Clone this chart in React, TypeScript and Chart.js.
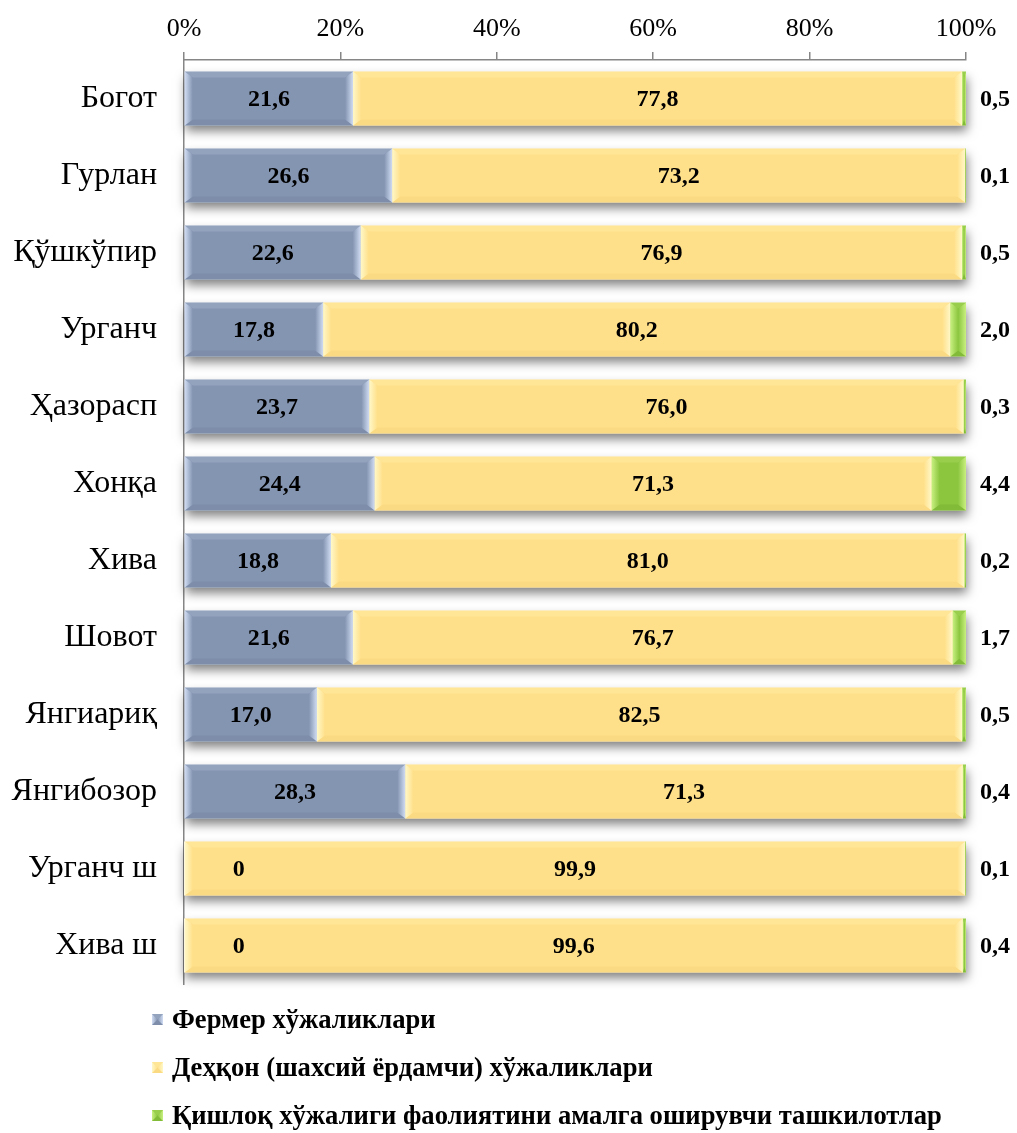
import React, { useEffect, useRef } from "react";
import { Chart, registerables } from "chart.js";
Chart.register(...registerables);

const categories = ["Богот", "Гурлан", "Қўшкўпир", "Урганч", "Ҳазорасп", "Хонқа", "Хива", "Шовот", "Янгиариқ", "Янгибозор", "Урганч ш", "Хива ш"];
const farmerValues = [21.6, 26.6, 22.6, 17.8, 23.7, 24.4, 18.8, 21.6, 17.0, 28.3, 0, 0];
const dehkanValues = [77.8, 73.2, 76.9, 80.2, 76.0, 71.3, 81.0, 76.7, 82.5, 71.3, 99.9, 99.6];
const orgValues = [0.5, 0.1, 0.5, 2.0, 0.3, 4.4, 0.2, 1.7, 0.5, 0.4, 0.1, 0.4];
const seriesNames = [
  "Фермер хўжаликлари",
  "Деҳқон (шахсий ёрдамчи) хўжаликлари",
  "Қишлоқ хўжалиги фаолиятини амалга оширувчи ташкилотлар",
];
const xTickValues = [0, 20, 40, 60, 80, 100];

const FONT = '"Liberation Serif", "Times New Roman", serif';
const baseColors = ["#8495B2", "#FFE08A", "#8CC63F"];
const lightColors = ["#D0DCF2", "#FFF8C8", "#C8F080"];
const darkColors = ["#6F7F9C", "#F2CF74", "#6FA52C"];

const fmt = (v: number) => (v === 0 ? "0" : v.toFixed(1).replace(".", ","));

const shadowPlugin = {
  id: "rowShadow",
  beforeDatasetsDraw(chart: any) {
    const ctx = chart.ctx;
    const metas = chart.data.datasets.map((_: any, i: number) => chart.getDatasetMeta(i));
    ctx.save();
    for (let j = 0; j < categories.length; j++) {
      let l = Infinity, r = -Infinity, t = 0, b = 0;
      metas.forEach((m: any) => {
        const el = m.data[j];
        if (!el) return;
        l = Math.min(l, el.base, el.x);
        r = Math.max(r, el.base, el.x);
        t = el.y - el.height / 2;
        b = el.y + el.height / 2;
      });
      ctx.shadowColor = "rgba(0,0,0,0.5)";
      ctx.shadowBlur = 10;
      ctx.shadowOffsetX = 1;
      ctx.shadowOffsetY = 6;
      ctx.fillStyle = "#ffffff";
      ctx.fillRect(l, t, r - l, b - t);
    }
    ctx.restore();
  },
};

function bevel(ctx: CanvasRenderingContext2D, L: number, T: number, R: number, B: number, di: number) {
  const w = R - L;
  const h = B - T;
  if (w <= 0) return;
  const bw = Math.min(8, w / 2);
  const bh = Math.min(6, h / 2);
  // top
  ctx.fillStyle = lightColors[di];
  ctx.globalAlpha = 0.2;
  ctx.beginPath();
  ctx.moveTo(L, T); ctx.lineTo(R, T); ctx.lineTo(R - bw, T + bh); ctx.lineTo(L + bw, T + bh); ctx.closePath();
  ctx.fill();
  // bottom
  ctx.fillStyle = darkColors[di];
  ctx.globalAlpha = 0.35;
  ctx.beginPath();
  ctx.moveTo(L, B); ctx.lineTo(R, B); ctx.lineTo(R - bw, B - bh); ctx.lineTo(L + bw, B - bh); ctx.closePath();
  ctx.fill();
  ctx.globalAlpha = 1;
  // left
  let g = ctx.createLinearGradient(L, 0, L + bw, 0);
  g.addColorStop(0, lightColors[di]);
  g.addColorStop(1, baseColors[di]);
  ctx.fillStyle = g;
  ctx.beginPath();
  ctx.moveTo(L, T); ctx.lineTo(L + bw, T + bh); ctx.lineTo(L + bw, B - bh); ctx.lineTo(L, B); ctx.closePath();
  ctx.fill();
  // right
  g = ctx.createLinearGradient(R - bw, 0, R, 0);
  g.addColorStop(0, baseColors[di]);
  g.addColorStop(1, lightColors[di]);
  ctx.fillStyle = g;
  ctx.beginPath();
  ctx.moveTo(R, T); ctx.lineTo(R - bw, T + bh); ctx.lineTo(R - bw, B - bh); ctx.lineTo(R, B); ctx.closePath();
  ctx.fill();
}

const bevelPlugin = {
  id: "bevel",
  afterDatasetsDraw(chart: any) {
    const ctx = chart.ctx;
    ctx.save();
    chart.data.datasets.forEach((_: any, di: number) => {
      const meta = chart.getDatasetMeta(di);
      meta.data.forEach((el: any) => {
        const L = Math.min(el.base, el.x);
        const R = Math.max(el.base, el.x);
        const T = el.y - el.height / 2;
        const B = el.y + el.height / 2;
        bevel(ctx, L, T, R, B, di);
      });
    });
    ctx.restore();
  },
};

const labelPlugin = {
  id: "valueLabels",
  afterDatasetsDraw(chart: any) {
    const ctx = chart.ctx;
    const xs = chart.scales.x;
    const area = chart.chartArea;
    const all = [farmerValues, dehkanValues, orgValues];
    ctx.save();
    ctx.font = `bold 24px ${FONT}`;
    ctx.fillStyle = "#000";
    ctx.textAlign = "center";
    ctx.textBaseline = "middle";
    all.forEach((vals, di) => {
      const meta = chart.getDatasetMeta(di);
      meta.data.forEach((el: any, j: number) => {
        const v = vals[j];
        let x: number;
        if (di === 2) x = area.right + 29;
        else if (v === 0) x = xs.getPixelForValue(7);
        else x = (el.base + el.x) / 2;
        ctx.fillText(fmt(v), x, el.y + 1);
      });
    });
    ctx.restore();
  },
};

const legendPlugin = {
  id: "vertLegend",
  afterDraw(chart: any) {
    const ctx = chart.ctx;
    const area = chart.chartArea;
    ctx.save();
    seriesNames.forEach((name, i) => {
      const cy = area.bottom + 36 + i * 48;
      const mx = area.left - 32;
      ctx.fillStyle = baseColors[i];
      ctx.fillRect(mx, cy - 6, 11, 11);
      bevel(ctx, mx, cy - 6, mx + 11, cy + 5, i);
      ctx.fillStyle = "#000";
      ctx.font = `bold 26.6px ${FONT}`;
      ctx.textAlign = "left";
      ctx.textBaseline = "middle";
      ctx.fillText(name, mx + 20, cy + 1);
    });
    ctx.restore();
  },
};

export default function App() {
  const ref = useRef<HTMLCanvasElement>(null);
  useEffect(() => {
    document.body.style.margin = "0";
    const totals = categories.map((_, j) => farmerValues[j] + dehkanValues[j] + orgValues[j]);
    const norm = (arr: number[]) => arr.map((v, j) => (v / totals[j]) * 100);
    const chart = new Chart(ref.current!, {
      type: "bar",
      data: {
        labels: categories,
        datasets: [farmerValues, dehkanValues, orgValues].map((vals, i) => ({
          label: seriesNames[i],
          data: norm(vals),
          backgroundColor: baseColors[i],
          borderWidth: 0,
          barPercentage: 0.7,
          categoryPercentage: 1,
        })),
      },
      options: {
        indexAxis: "y",
        responsive: false,
        animation: false,
        layout: { padding: { left: 0, right: 51, top: 0, bottom: 149 } },
        plugins: { legend: { display: false }, tooltip: { enabled: false } },
        scales: {
          x: {
            type: "linear",
            position: "top",
            stacked: true,
            min: 0,
            max: 100,
            afterBuildTicks: (s: any) => {
              s.ticks = xTickValues.map((v) => ({ value: v }));
            },
            ticks: {
              callback: (v: any) => v + "%",
              font: { family: FONT, size: 26 },
              color: "#000",
              padding: 7,
            },
            grid: { drawOnChartArea: false, drawTicks: true, tickLength: 8, color: "#868686", lineWidth: 1.5 },
            border: { display: true, color: "#868686", width: 1.5 },
            afterFit: (s: any) => {
              s.height = 60;
            },
          },
          y: {
            stacked: true,
            ticks: { font: { family: FONT, size: 32 }, color: "#000", padding: 27 },
            grid: { display: false, drawTicks: false },
            border: { display: true, color: "#868686", width: 1.5 },
            afterFit: (s: any) => {
              s.width = 184;
            },
          },
        },
      } as any,
      plugins: [shadowPlugin, bevelPlugin, labelPlugin, legendPlugin],
    });
    return () => chart.destroy();
  }, []);
  return <canvas ref={ref} width={1017} height={1133} style={{ display: "block" }} />;
}
